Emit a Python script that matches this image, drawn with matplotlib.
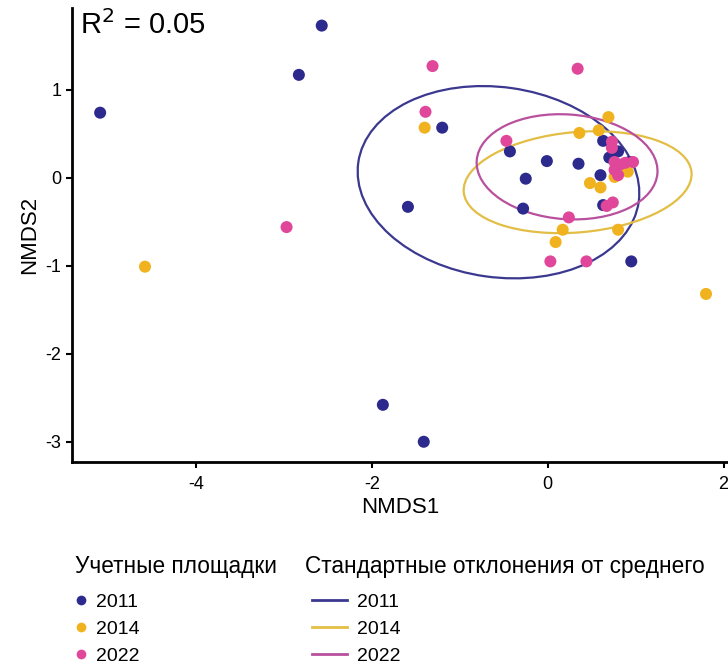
import matplotlib
matplotlib.use('Agg')
import matplotlib.pyplot as plt
from matplotlib.patches import Ellipse
from matplotlib.lines import Line2D

plt.rcParams['font.family'] = ['Liberation Sans', 'DejaVu Sans']

# NMDS координаты учетных площадок
x_2011 = [-5.09, -2.57, -2.83, -1.20, -1.59, -1.875, -1.41, -0.43, -0.01, 0.35,
          -0.25, -0.28, 0.60, 0.63, 0.80, 0.70, 0.95, 0.63, 0.93]
y_2011 = [0.74, 1.73, 1.17, 0.57, -0.33, -2.58, -3.00, 0.30, 0.19, 0.16,
          -0.01, -0.35, 0.03, 0.42, 0.30, 0.23, -0.95, -0.31, 0.18]

x_2014 = [-4.58, -1.40, 1.80, 0.69, 0.36, 0.58, 0.48, 0.60, 0.17, 0.09, 0.80, 0.91, 0.76]
y_2014 = [-1.01, 0.57, -1.32, 0.69, 0.51, 0.54, -0.06, -0.11, -0.59, -0.73, -0.59, 0.07, 0.01]

x_2022 = [-1.31, 0.34, -1.39, -2.97, -0.47, 0.24, 0.03, 0.44, 0.67, 0.74,
          0.73, 0.73, 0.76, 0.82, 0.88, 0.97, 0.76, 0.80]
y_2022 = [1.27, 1.24, 0.75, -0.56, 0.42, -0.45, -0.95, -0.95, -0.32, -0.28,
          0.41, 0.34, 0.18, 0.15, 0.17, 0.18, 0.09, 0.03]

# эллипсы стандартных отклонений: центр, ширина, высота, угол
ell_center = [(-0.56, -0.05), (0.34, -0.05), (0.22, 0.125)]
ell_width = [3.22, 2.60, 2.06]
ell_height = [2.16, 1.14, 1.19]
ell_angle = [-8, 5, -4]

years = ['2011', '2014', '2022']
dot_colors = ['#2D2A8E', '#F0B21E', '#E0479A']
line_colors = ['#3B3890', '#E3BE45', '#B8509E']

fig = plt.figure(figsize=(7.28, 6.68), dpi=100)
ax = fig.add_axes([72 / 728, 206 / 668, 656 / 728, 454 / 668])

for xs, ys, c in zip([x_2011, x_2014, x_2022], [y_2011, y_2014, y_2022], dot_colors):
    ax.scatter(xs, ys, s=75, color=c, edgecolors='none', zorder=3)

for cen, w, h, a, c in zip(ell_center, ell_width, ell_height, ell_angle, line_colors):
    ax.add_patch(Ellipse(cen, w, h, angle=a, fill=False, edgecolor=c, linewidth=1.6, zorder=2))

ax.set_xlim(-5.41, 2.05)
ax.set_ylim(-3.23, 1.93)
ax.set_xticks([-4, -2, 0, 2])
ax.set_yticks([-3, -2, -1, 0, 1])
ax.set_xticklabels(['-4', '-2', '0', '2'])
ax.set_yticklabels(['-3', '-2', '-1', '0', '1'])
ax.tick_params(labelsize=13, width=1.5, length=4, color='black')
ax.tick_params(axis='x', pad=6)
for side in ['top', 'right']:
    ax.spines[side].set_visible(False)
for side in ['left', 'bottom']:
    ax.spines[side].set_linewidth(2)
ax.set_xlabel('NMDS1', fontsize=16, labelpad=3)
ax.set_ylabel('NMDS2', fontsize=16, labelpad=4)

ax.text(0.012, 0.995, r'R$^2$ = 0.05', transform=ax.transAxes, fontsize=21,
        va='top', ha='left')

# легенды: заголовки отдельным текстом, ниже - элементы
fig.text(75 / 728, 1 - 566 / 668, 'Учетные площадки', fontsize=16.3, va='center', ha='left')
fig.text(305 / 728, 1 - 566 / 668, 'Стандартные отклонения от среднего', fontsize=16.3,
         va='center', ha='left')

dot_handles = [Line2D([], [], marker='o', linestyle='none', markersize=7,
                      markerfacecolor=c, markeredgecolor='none') for c in dot_colors]
line_handles = [Line2D([], [], color=c, linewidth=2) for c in line_colors]

leg_top = 1 - 593 / 668
fig.legend(dot_handles, years, loc='upper left',
           bbox_to_anchor=(75 / 728, leg_top), frameon=False,
           fontsize=14, handlelength=0.6, handletextpad=0.5, labelspacing=0.5,
           borderaxespad=0, borderpad=0)
fig.legend(line_handles, years, loc='upper left',
           bbox_to_anchor=(312 / 728, leg_top), frameon=False,
           fontsize=14, handlelength=1.8, handletextpad=0.5, labelspacing=0.5,
           borderaxespad=0, borderpad=0)

fig.savefig('out.png', dpi=100)
